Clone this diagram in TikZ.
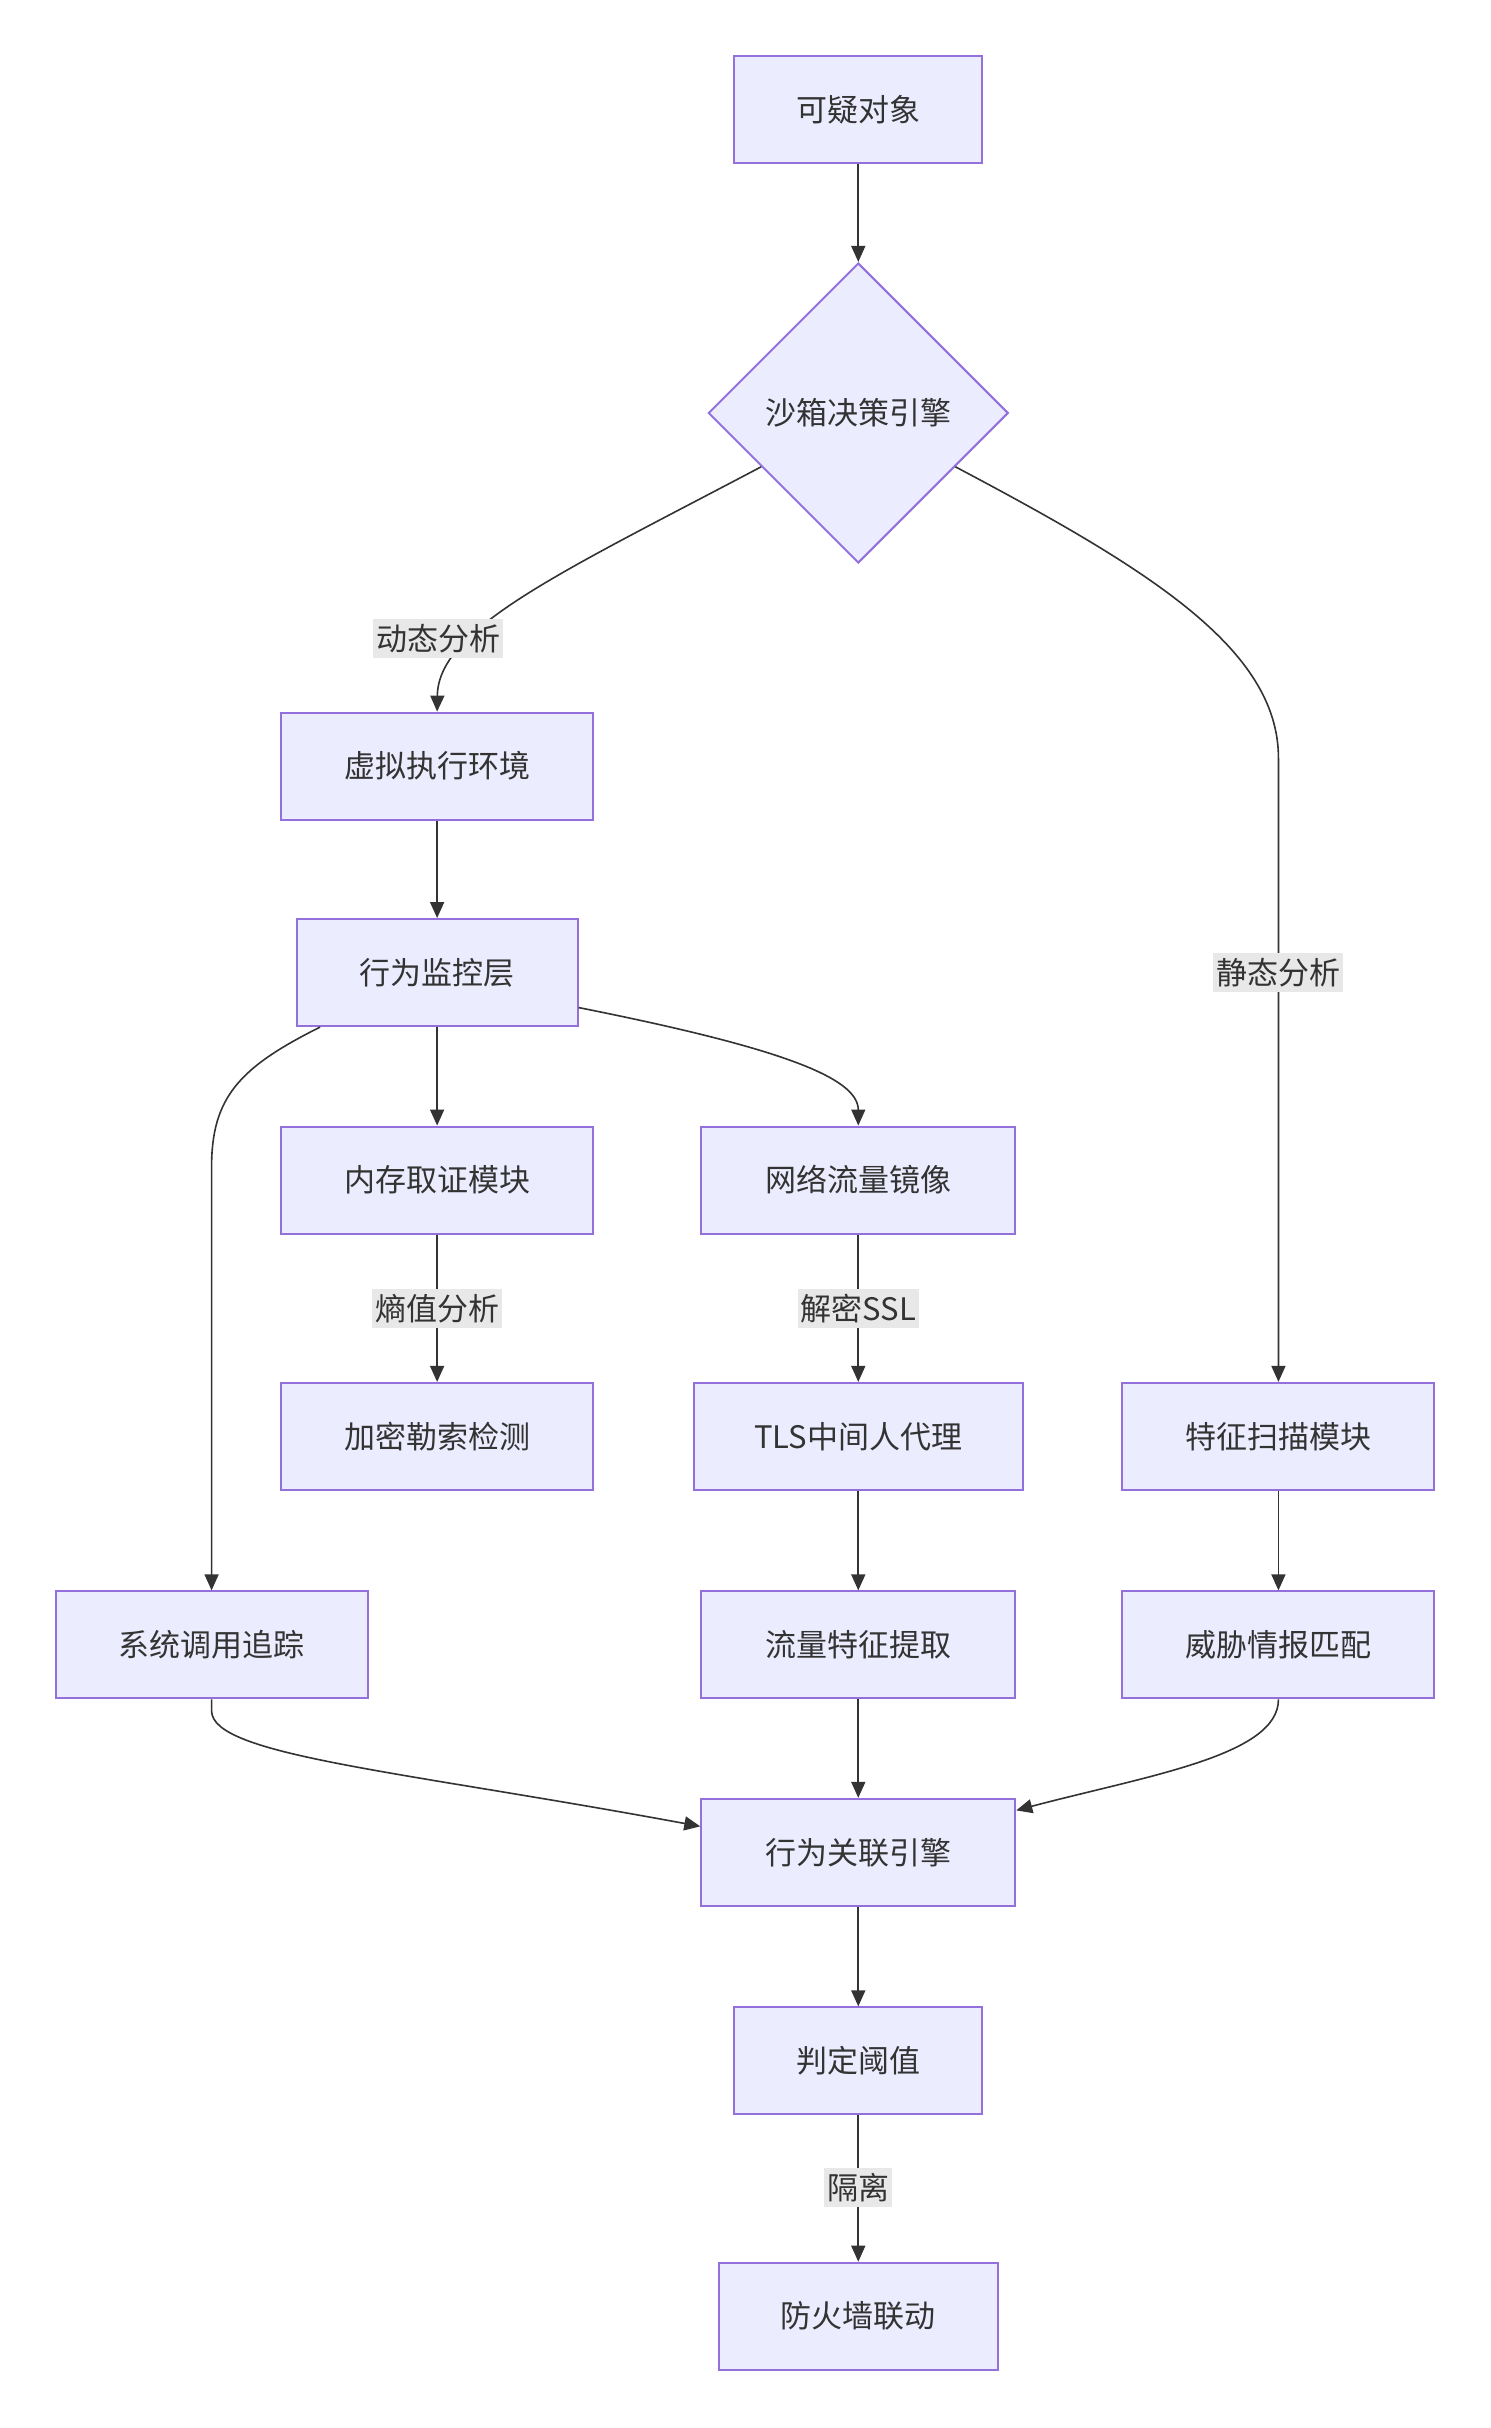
\documentclass[tikz,border=0pt]{standalone}
\usepackage{fontspec}
\setmainfont{Noto Sans CJK SC}
\usetikzlibrary{shapes.geometric,arrows.meta}
\definecolor{nodefill}{HTML}{ECECFF}
\definecolor{nodeline}{HTML}{9370DB}
\definecolor{edgecol}{HTML}{333333}
\definecolor{lblbg}{HTML}{E8E8E8}
\begin{document}
\begin{tikzpicture}[x=0.998pt,y=-0.9975pt,
  box/.style={draw=nodeline, line width=2pt, fill=nodefill, minimum height=107pt, inner sep=0pt,
    font=\fontsize{31}{37}\selectfont, text=edgecol},
  dia/.style={diamond, aspect=1, draw=nodeline, line width=2pt, fill=nodefill, minimum width=300pt,
    minimum height=300pt, inner sep=0pt, font=\fontsize{31}{37}\selectfont, text=edgecol},
  lbl/.style={fill=lblbg, inner xsep=3pt, inner ysep=5pt, font=\fontsize{31}{37}\selectfont, text=edgecol},
  edge/.style={draw=edgecol, line width=1.6pt, -{Triangle[length=16pt,width=14pt]}}]
\useasboundingbox (0,0) rectangle (1492.99,2434.09);
\fill[white] (0,0) rectangle (1492.99,2434.09);
% nodes
\node[box, minimum width=248pt] (obj) at (860,110) {可疑对象};
\node[dia] (sb) at (860,414) {沙箱决策引擎};
\node[box, minimum width=312pt] (vm) at (438,768) {虚拟执行环境};
\node[box, minimum width=281pt] (mon) at (438,975) {行为监控层};
\node[box, minimum width=312pt] (mem) at (438,1183) {内存取证模块};
\node[box, minimum width=314pt] (net) at (860,1183) {网络流量镜像};
\node[box, minimum width=312pt] (enc) at (438,1440) {加密勒索检测};
\node[box, minimum width=329pt] (tls) at (860,1440) {TLS中间人代理};
\node[box, minimum width=312pt] (sig) at (1281,1440) {特征扫描模块};
\node[box, minimum width=312pt] (sys) at (212,1649) {系统调用追踪};
\node[box, minimum width=314pt] (feat) at (860,1649) {流量特征提取};
\node[box, minimum width=312pt] (ti) at (1281,1649) {威胁情报匹配};
\node[box, minimum width=314pt] (corr) at (860,1857) {行为关联引擎};
\node[box, minimum width=248pt] (thr) at (860,2066) {判定阈值};
\node[box, minimum width=279pt] (fw) at (860,2322) {防火墙联动};
% edges
\draw[edge] (obj) -- (sb);
\draw[edge] (sb.209) .. controls (560,575) and (439,630) .. (vm.north);
\draw[edge] (sb.331) .. controls (1150,570) and (1281,650) .. (1281,760) -- (sig.north);
\draw[edge] (vm) -- (mon);
\draw[edge] ([xshift=-117pt]mon.south) .. controls (240,1070) and (212,1100) .. (212,1170) -- (sys.north);
\draw[edge] (mon) -- (mem);
\draw[edge] ([yshift=-35pt]mon.east) .. controls (780,1050) and (860,1080) .. (net.north);
\draw[edge] (mem) -- (enc);
\draw[edge] (net) -- (tls);
\draw[edge] (tls) -- (feat);
\draw[edge] (sig) -- (ti);
\draw[edge] (sys.south) -- (212,1715) .. controls (212,1760) and (400,1775) .. ([yshift=26pt]corr.west);
\draw[edge] (feat) -- (corr);
\draw[edge] (ti.south) .. controls (1281,1760) and (1150,1780) .. ([yshift=42pt]corr.east);
\draw[edge] (corr) -- (thr);
\draw[edge] (thr) -- (fw);
% edge labels
\node[lbl] (l1) at (439,640) {动态分析};
\node[lbl] (l2) at (1281,975) {静态分析};
\node[lbl] (l3) at (438,1312) {熵值分析};
\node[lbl] (l4) at (860,1312) {解密SSL};
\node[lbl] (l5) at (860,2193) {隔离};
\end{tikzpicture}
\end{document}
